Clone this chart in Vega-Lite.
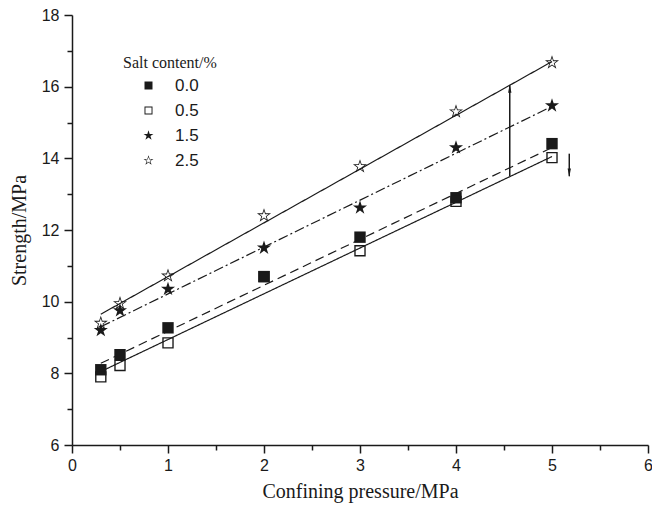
{
  "$schema": "https://vega.github.io/schema/vega-lite/v6.json",
  "width": 576,
  "height": 430,
  "autosize": "none",
  "padding": {"left": 72, "top": 15, "right": 4, "bottom": 72},
  "background": "white",
  "config": {
    "view": {"stroke": null},
    "axis": {
      "domainColor": "#1a1a1a", "domainWidth": 1.5,
      "tickColor": "#1a1a1a", "tickWidth": 1.5,
      "labelFont": "Liberation Sans", "labelFontSize": 16, "labelColor": "#1a1a1a",
      "titleFont": "Liberation Serif", "titleFontSize": 20, "titleFontWeight": "normal", "titleColor": "#1a1a1a",
      "grid": false
    }
  },
  "datasets": {
    "points": [
      {"salt": "0.0", "x": 0.3, "y": 8.1}, {"salt": "0.0", "x": 0.5, "y": 8.52}, {"salt": "0.0", "x": 1, "y": 9.27}, {"salt": "0.0", "x": 2, "y": 10.7}, {"salt": "0.0", "x": 3, "y": 11.8}, {"salt": "0.0", "x": 4, "y": 12.9}, {"salt": "0.0", "x": 5, "y": 14.41},
      {"salt": "0.5", "x": 0.3, "y": 7.9}, {"salt": "0.5", "x": 0.5, "y": 8.22}, {"salt": "0.5", "x": 1, "y": 8.85}, {"salt": "0.5", "x": 2, "y": 10.7}, {"salt": "0.5", "x": 3, "y": 11.42}, {"salt": "0.5", "x": 4, "y": 12.8}, {"salt": "0.5", "x": 5, "y": 14.02},
      {"salt": "1.5", "x": 0.3, "y": 9.2}, {"salt": "1.5", "x": 0.5, "y": 9.75}, {"salt": "1.5", "x": 1, "y": 10.35}, {"salt": "1.5", "x": 2, "y": 11.5}, {"salt": "1.5", "x": 3, "y": 12.62}, {"salt": "1.5", "x": 4, "y": 14.3}, {"salt": "1.5", "x": 5, "y": 15.47},
      {"salt": "2.5", "x": 0.3, "y": 9.4}, {"salt": "2.5", "x": 0.5, "y": 9.95}, {"salt": "2.5", "x": 1, "y": 10.72}, {"salt": "2.5", "x": 2, "y": 12.4}, {"salt": "2.5", "x": 3, "y": 13.77}, {"salt": "2.5", "x": 4, "y": 15.3}, {"salt": "2.5", "x": 5, "y": 16.67}
    ],
    "fits": [
      {"fit": "fit 0.0", "x": 0.3, "y": 8.28}, {"fit": "fit 0.0", "x": 5, "y": 14.3},
      {"fit": "fit 0.5", "x": 0.3, "y": 8.05}, {"fit": "fit 0.5", "x": 5, "y": 14.05},
      {"fit": "fit 1.5", "x": 0.3, "y": 9.3}, {"fit": "fit 1.5", "x": 5, "y": 15.45},
      {"fit": "fit 2.5", "x": 0.3, "y": 9.65}, {"fit": "fit 2.5", "x": 5, "y": 16.7}
    ],
    "arrows": [
      {"dir": "up", "x": 4.56, "y": 13.5, "y2": 16.05, "hy": 15.95},
      {"dir": "down", "x": 5.18, "y": 14.13, "y2": 13.5, "hy": 13.6}
    ]
  },
  "encoding": {
    "x": {
      "field": "x", "type": "quantitative",
      "scale": {"domain": [0, 6], "nice": false, "zero": false},
      "axis": {
        "title": "Confining pressure/MPa",
        "values": [0, 0.5, 1, 1.5, 2, 2.5, 3, 3.5, 4, 4.5, 5, 5.5, 6],
        "labelExpr": "datum.value % 1 == 0 ? format(datum.value, 'd') : ''",
        "tickSize": {"condition": {"test": "datum.value % 1 == 0", "value": 8}, "value": 5},
        "labelPadding": 4, "titlePadding": 8, "labelFlush": false
      }
    },
    "y": {
      "field": "y", "type": "quantitative",
      "scale": {"domain": [6, 18], "nice": false, "zero": false},
      "axis": {
        "title": "Strength/MPa",
        "values": [6, 7, 8, 9, 10, 11, 12, 13, 14, 15, 16, 17, 18],
        "labelExpr": "datum.value % 2 == 0 ? datum.label : ''",
        "tickSize": {"condition": {"test": "datum.value % 2 == 0", "value": 8}, "value": 5},
        "labelPadding": 5, "titlePadding": 12, "labelFlush": false
      }
    }
  },
  "layer": [
    {
      "data": {"name": "fits"},
      "mark": {"type": "line", "color": "#1a1a1a", "strokeWidth": 1.2},
      "encoding": {
        "detail": {"field": "fit"},
        "strokeDash": {
          "field": "fit", "type": "nominal", "legend": null,
          "scale": {"domain": ["fit 0.0", "fit 0.5", "fit 1.5", "fit 2.5"], "range": [[9, 5], [1, 0], [10, 3, 2, 3], [1, 0]]}
        }
      }
    },
    {
      "data": {"name": "points"},
      "mark": {"type": "point", "filled": true, "color": "#1a1a1a", "opacity": 1, "size": 130},
      "encoding": {
        "shape": {
          "field": "salt", "type": "nominal", "title": "Salt content/%",
          "scale": {"domain": ["0.0", "0.5", "1.5", "2.5"], "range": [
            "M-1,-1L1,-1L1,1L-1,1Z",
            "M-1,-1L1,-1L1,1L-1,1ZM-0.76,-0.76L-0.76,0.76L0.76,0.76L0.76,-0.76Z",
            "M0,-1.3L0.292,-0.402L1.236,-0.402L0.472,0.153L0.764,1.052L0,0.497L-0.764,1.052L-0.472,0.153L-1.236,-0.402L-0.292,-0.402Z",
            "M0,-1.3L0.292,-0.402L1.236,-0.402L0.472,0.153L0.764,1.052L0,0.497L-0.764,1.052L-0.472,0.153L-1.236,-0.402L-0.292,-0.402ZM0,-0.845L-0.19,-0.261L-0.803,-0.261L-0.307,0.099L-0.497,0.684L0,0.323L0.497,0.684L0.307,0.099L0.803,-0.261L0.19,-0.261Z"
          ]},
          "legend": {
            "orient": "none", "legendX": 51, "legendY": 40, "padding": 0,
            "titleFont": "Liberation Serif", "titleFontSize": 16, "titleFontWeight": "normal", "titleColor": "#1a1a1a", "titlePadding": 6,
            "labelFont": "Liberation Sans", "labelFontSize": 17, "labelColor": "#1a1a1a", "labelOffset": 18,
            "symbolSize": 64, "symbolOffset": 17, "symbolFillColor": "#1a1a1a", "symbolStrokeWidth": 0,
            "rowPadding": 7
          }
        }
      }
    },
    {
      "data": {"name": "arrows"},
      "mark": {"type": "rule", "color": "#1a1a1a", "strokeWidth": 1.5},
      "encoding": {"y2": {"field": "y2"}}
    },
    {
      "data": {"name": "arrows"},
      "transform": [{"filter": "datum.dir == 'up'"}],
      "mark": {"type": "point", "filled": true, "color": "#1a1a1a", "opacity": 1, "size": 70, "shape": "M0,-1L0.4,1L-0.4,1Z"},
      "encoding": {"y": {"field": "hy", "type": "quantitative"}}
    },
    {
      "data": {"name": "arrows"},
      "transform": [{"filter": "datum.dir == 'down'"}],
      "mark": {"type": "point", "filled": true, "color": "#1a1a1a", "opacity": 1, "size": 70, "shape": "M0,1L0.4,-1L-0.4,-1Z"},
      "encoding": {"y": {"field": "hy", "type": "quantitative"}}
    }
  ]
}
